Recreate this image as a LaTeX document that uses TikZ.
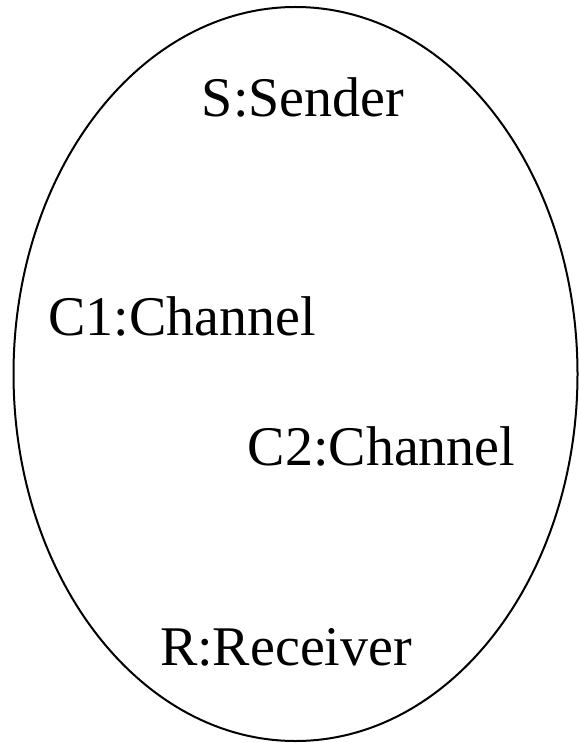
\documentclass[tikz,border=0pt]{standalone}
\usepackage{fontspec}
\setmainfont{Liberation Serif}
\begin{document}
\begin{tikzpicture}[x=1pt,y=-1pt,
  lbl/.style={font=\fontsize{56}{60}\selectfont, inner sep=0pt, anchor=base}]
\useasboundingbox (0,0) rectangle (578,743);
\draw[line width=2pt] (295.5,374) ellipse [x radius=282, y radius=367];
\node[lbl] (s) at (303,117) {S:Sender};
\node[lbl] (c1) at (182,335) {C1:Channel};
\node[lbl] (c2) at (381.5,465) {C2:Channel};
\node[lbl] (r) at (286,665) {R:Receiver};
\end{tikzpicture}
\end{document}
